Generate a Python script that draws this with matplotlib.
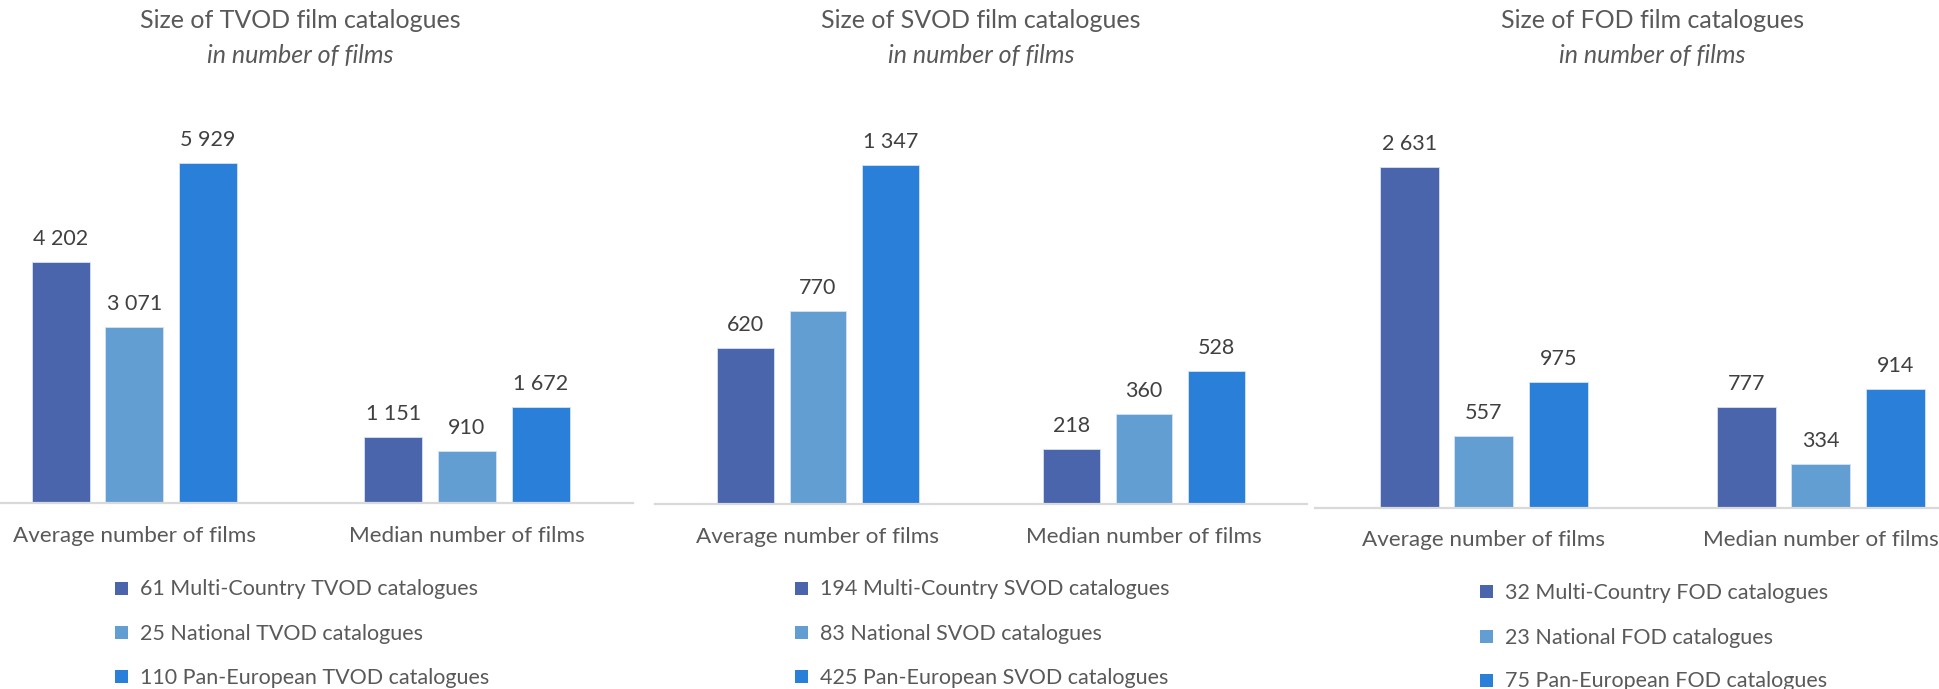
import matplotlib

matplotlib.use("Agg")

import matplotlib.pyplot as plt
import matplotlib.transforms as mtransforms
from matplotlib.patches import Rectangle

plt.rcParams["font.family"] = ["Lato", "DejaVu Sans"]

# datos
categories = ["Average number of films", "Median number of films"]
series_colors = ["#4A65AC", "#629ED2", "#2A7FD8"]

tvod_title = "Size of TVOD film catalogues"
tvod_series = ["61 Multi-Country TVOD catalogues", "25 National TVOD catalogues",
               "110 Pan-European TVOD catalogues"]
tvod_values = [[4202, 1151], [3071, 910], [5929, 1672]]

svod_title = "Size of SVOD film catalogues"
svod_series = ["194 Multi-Country SVOD catalogues", "83 National SVOD catalogues",
               "425 Pan-European SVOD catalogues"]
svod_values = [[620, 218], [770, 360], [1347, 528]]

fod_title = "Size of FOD film catalogues"
fod_series = ["32 Multi-Country FOD catalogues", "23 National FOD catalogues",
              "75 Pan-European FOD catalogues"]
fod_values = [[2631, 777], [557, 334], [975, 914]]

subtitle = "in number of films"

W, H = 1939, 689
DPI = 100

# layout en pixeles: (izq, der, base, px por unidad, y etiquetas cat, x marcador ley, x texto ley, y filas ley)
panels = [
    (tvod_title, tvod_series, tvod_values, -32, 633.3, 503.3, 340 / 5929, 541.7, 114.8, 139.7,
     [588.3, 632.7, 676.7]),
    (svod_title, svod_series, svod_values, 655, 1307, 504.3, 339 / 1347, 542.7, 794.9, 820,
     [588.3, 632.7, 676.7]),
    (fod_title, fod_series, fod_values, 1315.3, 1989.3, 507.7, 340.4 / 2631, 546.0, 1480, 1504.6,
     [591.7, 636.7, 680.0]),
]

TOP = 100
STEP = 0.2215
WIDTH = 0.1745

fig = plt.figure(figsize=(W / DPI, H / DPI), dpi=DPI)
fig.patch.set_facecolor("white")

for (title, names, values, x0, x1, base, pxpu, cat_y, mk_x, txt_x, rows) in panels:
    ax = fig.add_axes([x0 / W, 1 - base / H, (x1 - x0) / W, (base - TOP) / H])
    ax.set_xlim(-0.5, 1.5)
    ax.set_ylim(0, (base - TOP) / pxpu)
    ax.patch.set_alpha(0)
    for s in ("top", "left", "right"):
        ax.spines[s].set_visible(False)
    ax.spines["bottom"].set_color("#D9D9D9")
    ax.spines["bottom"].set_linewidth(1.6)
    ax.set_yticks([])
    ax.set_xticks([])

    for i, (vals, col) in enumerate(zip(values, series_colors)):
        xs = [c + (i - 1) * STEP for c in range(len(categories))]
        bars = ax.bar(xs, vals, width=WIDTH, color=col, edgecolor="#d6e2f2",
                      linewidth=0.6, zorder=2)
        for b, v in zip(bars, vals):
            ax.annotate(f"{v:,}".replace(",", " "),
                        (b.get_x() + b.get_width() / 2, b.get_height()),
                        xytext=(0, 17), textcoords="offset pixels",
                        ha="center", va="baseline", fontsize=15.5, color="#404040")

    trans = mtransforms.blended_transform_factory(ax.transData, fig.transFigure)
    for c, name in enumerate(categories):
        ax.text(c, 1 - cat_y / H, name, transform=trans, ha="center", va="baseline",
                fontsize=16.2, color="#595959", clip_on=False)

    cx = (x0 + x1) / 2 / W
    fig.text(cx, 1 - 28.3 / H, title, ha="center", va="baseline",
             fontsize=18, color="#595959")
    fig.text(cx, 1 - 63 / H, subtitle, ha="center", va="baseline",
             fontsize=18, style="italic", color="#595959")

    # leyenda manual
    sq = 13
    for name, col, ry in zip(names, series_colors, rows):
        fig.patches.append(Rectangle((mk_x / W, 1 - (ry + sq / 2) / H), sq / W, sq / H,
                                     transform=fig.transFigure, facecolor=col,
                                     edgecolor="none"))
        fig.text(txt_x / W, 1 - (ry + 7) / H, name, ha="left", va="baseline",
                 fontsize=15.5, color="#595959")

fig.savefig("out.png", dpi=DPI, facecolor="white")
plt.close(fig)
